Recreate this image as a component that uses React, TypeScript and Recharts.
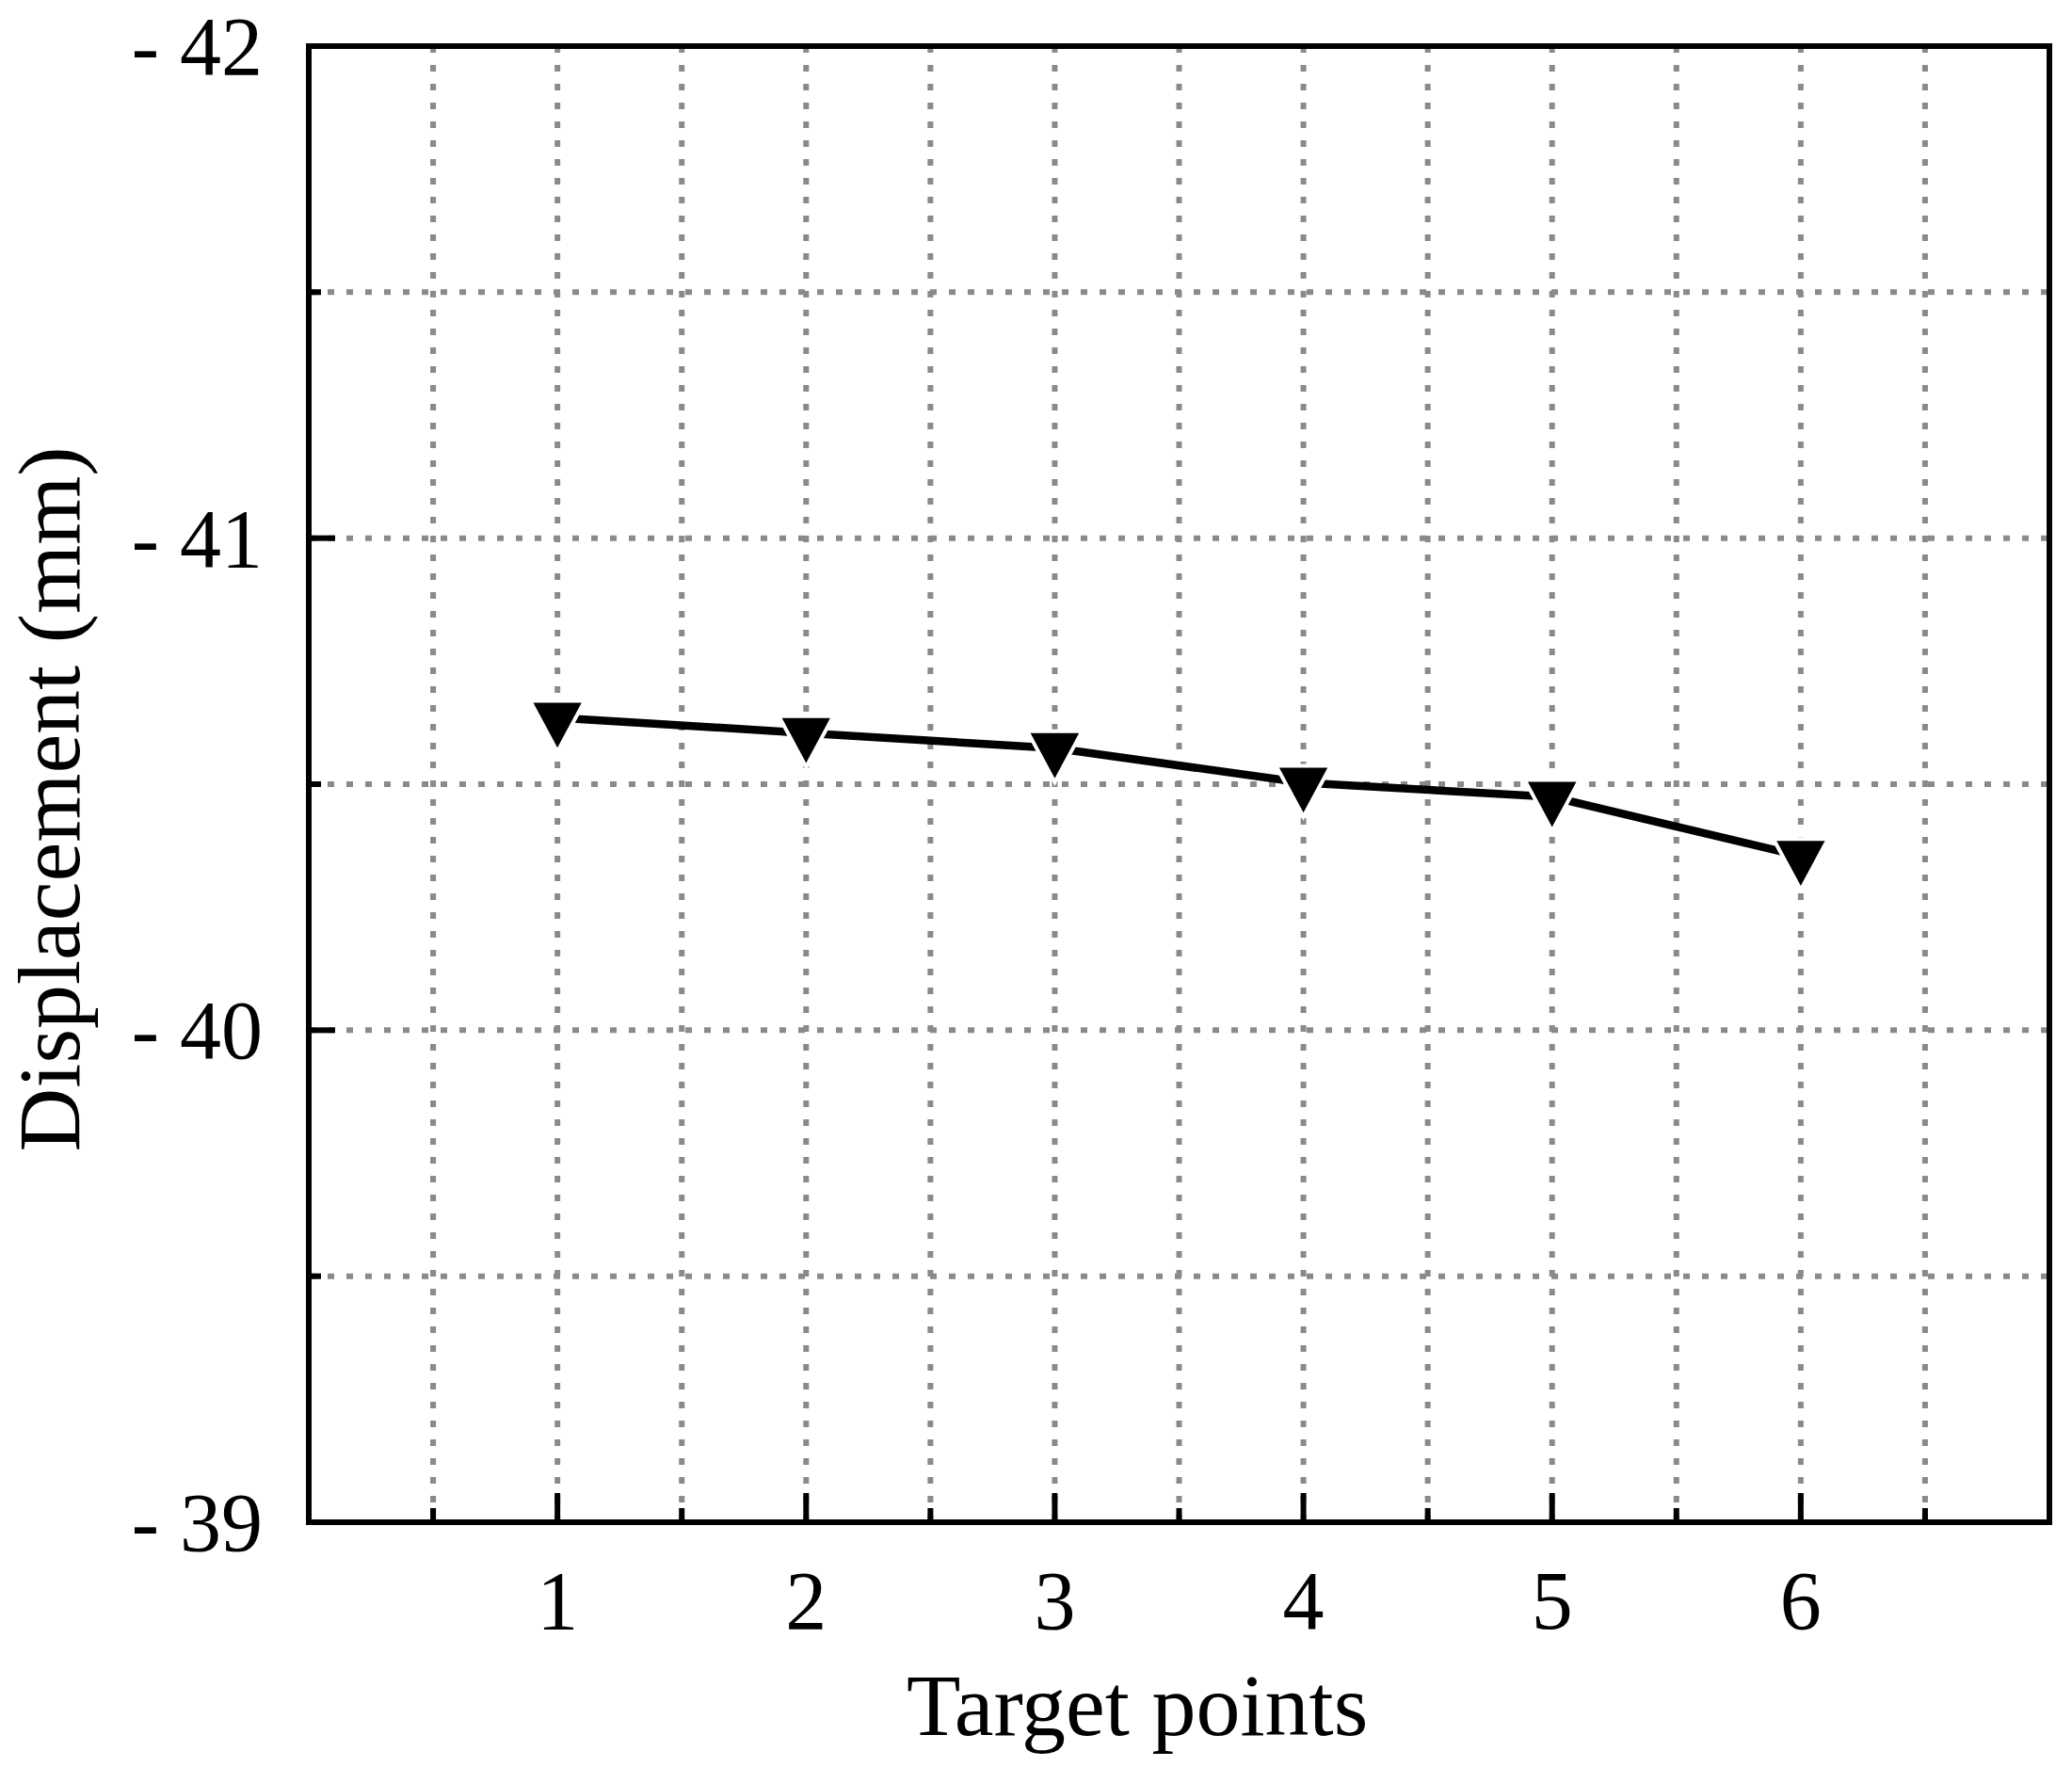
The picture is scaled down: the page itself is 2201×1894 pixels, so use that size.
import React from 'react';
import { LineChart, Line, XAxis, YAxis, CartesianGrid, ReferenceArea, Label } from 'recharts';

const targetPoints = [1, 2, 3, 4, 5, 6];
const displacement = [-40.635, -40.604, -40.573, -40.503, -40.474, -40.354];
const xTicks = [0, 0.5, 1, 1.5, 2, 2.5, 3, 3.5, 4, 4.5, 5, 5.5, 6, 6.5, 7];
const yTicks = [-42, -41.5, -41, -40.5, -40, -39.5, -39];
const xLabels = [1, 2, 3, 4, 5, 6];
const yLabels = [-42, -41, -40, -39];

const data = targetPoints.map((x, i) => ({ x, y: displacement[i] }));

const FONT = '"Liberation Serif", "Times New Roman", serif';
const TICK_FS = 88;
const TITLE_FS = 94;

const XTick = (props: any) => {
  const { x, y, payload } = props;
  const v = payload.value;
  const isInt = Number.isInteger(v);
  const len = isInt ? 31 : 15;
  const showTick = v > 0 && v < 7;
  return (
    <g>
      {showTick && <line x1={x} y1={y} x2={x} y2={y - len} stroke="#000" strokeWidth={6} />}
      {xLabels.includes(v) && (
        <text x={x} y={y + 113} textAnchor="middle" fontFamily={FONT} fontSize={TICK_FS} fill="#000">
          {v}
        </text>
      )}
    </g>
  );
};

const YTick = (props: any) => {
  const { x, y, payload } = props;
  const v = payload.value;
  const isInt = Number.isInteger(v);
  const len = isInt ? 28 : 13;
  const showTick = v > -42 && v < -39;
  return (
    <g>
      {showTick && <line x1={x} y1={y} x2={x + len} y2={y} stroke="#000" strokeWidth={6} />}
      {yLabels.includes(v) && (
        <text x={x - 49} y={y + 30} textAnchor="end" fontFamily={FONT} fontSize={TICK_FS} fill="#000">
          {`- ${Math.abs(v)}`}
        </text>
      )}
    </g>
  );
};

const TriangleDot = (props: any) => {
  const { cx, cy } = props;
  if (cx == null || cy == null) return null;
  const w = 58;
  const h = 54;
  const pts = `${cx - w / 2},${cy - h / 3} ${cx + w / 2},${cy - h / 3} ${cx},${cy + (2 * h) / 3}`;
  return <polygon points={pts} fill="#000" stroke="#fff" strokeWidth={4} strokeLinejoin="miter" />;
};

const XTitle = (props: any) => {
  const vb = props.viewBox || {};
  const cx = vb.x + vb.width * 0.476;
  return (
    <text x={cx} y={vb.y + 226} textAnchor="middle" fontFamily={FONT} fontSize={TITLE_FS} fill="#000">
      Target points
    </text>
  );
};

const YTitle = (props: any) => {
  const vb = props.viewBox || {};
  const cy = vb.y + vb.height / 2 + 16;
  const bx = 84;
  return (
    <text
      x={bx}
      y={cy}
      transform={`rotate(-90, ${bx}, ${cy})`}
      textAnchor="middle"
      fontFamily={FONT}
      fontSize={TITLE_FS}
      fill="#000"
    >
      Displacement (mm)
    </text>
  );
};

export default function App() {
  return (
    <div style={{ width: 2201, height: 1894, margin: -8, background: '#fff' }}>
      <LineChart
        width={2201}
        height={1894}
        data={data}
        margin={{ top: 49, right: 24, bottom: 0, left: 0 }}
      >
        <CartesianGrid stroke="#8a8a8a" strokeWidth={6} strokeDasharray="7 13" />
        <XAxis
          dataKey="x"
          type="number"
          domain={[0, 7]}
          ticks={xTicks}
          interval={0}
          height={277}
          tickSize={0}
          tickMargin={0}
          tickLine={false}
          tick={<XTick />}
          axisLine={{ stroke: '#000', strokeWidth: 6 }}
        >
          <Label content={<XTitle />} />
        </XAxis>
        <YAxis
          type="number"
          domain={[-42, -39]}
          reversed
          ticks={yTicks}
          interval={0}
          width={328}
          tickSize={0}
          tickMargin={0}
          tickLine={false}
          tick={<YTick />}
          axisLine={{ stroke: '#000', strokeWidth: 6 }}
        >
          <Label content={<YTitle />} />
        </YAxis>
        <ReferenceArea x1={0} x2={7} y1={-42} y2={-39} fill="none" stroke="#000" strokeWidth={6} ifOverflow="visible" />
        <Line
          type="linear"
          dataKey="y"
          stroke="#000"
          strokeWidth={8.5}
          dot={<TriangleDot />}
          activeDot={false}
          isAnimationActive={false}
        />
      </LineChart>
    </div>
  );
}
